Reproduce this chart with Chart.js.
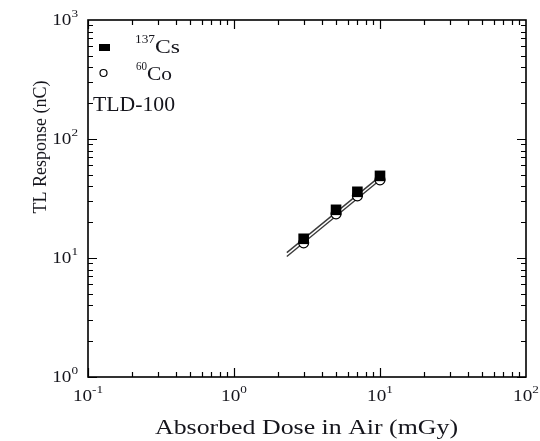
<!DOCTYPE html>
<html>
<head>
<meta charset="utf-8">
<script src="https://cdn.jsdelivr.net/npm/chart.js@4/dist/chart.umd.min.js"></script>
<style>
html,body{margin:0;padding:0;background:#fff;}
canvas{display:block;}
#pre{font-family:'Liberation Serif';position:absolute;left:-999px;top:0;}
</style>
</head>
<body>
<div id="pre">Aa10</div>
<canvas id="c" width="540" height="441"></canvas>
<script>
// ---- data ----
const doses = [3, 5, 7, 10];
const cs137 = [14.5, 25.4, 36, 49];
const co60 = [13.4, 23.5, 33.3, 45.4];
const fitDose = [2.3, 10];
const csFit = [11.1, 48.5];
const coFit = [10.3, 45.2];
const xTickValues = [0.1, 1, 10, 100];
const xTickExp = ['-1', '0', '1', '2'];
const yTickValues = [1, 10, 100, 1000];
const yTickExp = ['0', '1', '2', '3'];
const xTitle = 'Absorbed Dose in Air (mGy)';
const yTitle = 'TL Response (nC)';
const legendIsotopes = [['137', 'Cs'], ['60', 'Co']];
const noteText = 'TLD-100';

const FONT = "'Liberation Serif',serif";
const INK = '#15151c';
const SX = 1.2; // horizontal stretch of the reference's lettering

function pts(xs, ys) { return xs.map((x, i) => ({x: x, y: ys[i]})); }

function textW(ctx, text, size) {
  ctx.font = size + 'px ' + FONT;
  return ctx.measureText(text).width * SX;
}
function drawS(ctx, text, x, y, size) {
  ctx.save();
  ctx.font = size + 'px ' + FONT;
  ctx.translate(x, y);
  ctx.scale(SX, 1);
  ctx.textAlign = 'left';
  ctx.textBaseline = 'alphabetic';
  ctx.fillText(text, 0, 0);
  ctx.restore();
}
function fitText(ctx, text, x, y, size, targetW, align) {
  ctx.save();
  ctx.font = size + 'px ' + FONT;
  const w = ctx.measureText(text).width;
  const sx = targetW ? targetW / w : 1;
  ctx.translate(x, y);
  ctx.scale(sx, 1);
  ctx.textAlign = align || 'left';
  ctx.textBaseline = 'alphabetic';
  ctx.fillText(text, 0, 0);
  ctx.restore();
}

const framePlugin = {
  id: 'frame',
  afterDraw(chart) {
    const ctx = chart.ctx;
    const a = chart.chartArea;
    const xs = chart.scales.x, ys = chart.scales.y;
    ctx.save();
    ctx.fillStyle = INK;
    ctx.strokeStyle = '#000';
    ctx.lineWidth = 1.2;
    ctx.beginPath();
    for (let d = -1; d < 2; d++) {
      for (let k = 1; k <= 9; k++) {
        const v = k * Math.pow(10, d);
        const px = Math.round(xs.getPixelForValue(v)) + 0.5;
        const len = k === 1 ? 9 : 5;
        ctx.moveTo(px, a.bottom); ctx.lineTo(px, a.bottom - len);
        ctx.moveTo(px, a.top); ctx.lineTo(px, a.top + len);
      }
    }
    for (let d = 0; d < 3; d++) {
      for (let k = 1; k <= 9; k++) {
        const v = k * Math.pow(10, d);
        const py = Math.round(ys.getPixelForValue(v)) + 0.5;
        const len = k === 1 ? 9 : 5;
        ctx.moveTo(a.left, py); ctx.lineTo(a.left + len, py);
        ctx.moveTo(a.right, py); ctx.lineTo(a.right - len, py);
      }
    }
    ctx.stroke();
    ctx.lineWidth = 1.6;
    ctx.strokeRect(a.left, a.top, a.right - a.left, a.bottom - a.top);

    const BS = 16, ES = 11;
    xTickValues.forEach((v, i) => {
      const px = xs.getPixelForValue(v);
      const wb = textW(ctx, '10', BS);
      const we = textW(ctx, xTickExp[i], ES);
      const x0 = px - (wb + we) / 2;
      drawS(ctx, '10', x0, a.bottom + 24, BS);
      drawS(ctx, xTickExp[i], x0 + wb, a.bottom + 16, ES);
    });
    yTickValues.forEach((v, i) => {
      const py = ys.getPixelForValue(v);
      const wb = textW(ctx, '10', BS);
      const we = textW(ctx, yTickExp[i], ES);
      const xr = a.left - 10;
      drawS(ctx, '10', xr - we - wb, py + 5, BS);
      drawS(ctx, yTickExp[i], xr - we, py - 3, ES);
    });

    fitText(ctx, xTitle, (155 + 458) / 2, 434, 21, 303, 'center');
    ctx.save();
    ctx.translate(46, 147);
    ctx.rotate(-Math.PI / 2);
    fitText(ctx, yTitle, 0, 0, 18, 133, 'center');
    ctx.restore();

    ctx.fillStyle = '#000';
    ctx.fillRect(99, 44, 11, 7);
    ctx.beginPath();
    ctx.arc(103.5, 73, 3.5, 0, Math.PI * 2);
    ctx.fillStyle = '#fff';
    ctx.fill();
    ctx.lineWidth = 1.2;
    ctx.stroke();
    ctx.fillStyle = INK;
    fitText(ctx, legendIsotopes[0][0], 135, 43, 12, 20);
    fitText(ctx, legendIsotopes[0][1], 155, 53, 19, 25);
    fitText(ctx, legendIsotopes[1][0], 136, 70, 12, 11);
    fitText(ctx, legendIsotopes[1][1], 147, 80, 19, 25);
    fitText(ctx, noteText, 93, 111, 20, 82);
    ctx.restore();
  }
};

function build() {
  new Chart(document.getElementById('c'), {
    type: 'scatter',
    data: {
      datasets: [
        {label: '137Cs', data: pts(doses, cs137), pointStyle: 'rect', pointRadius: 7.5,
         backgroundColor: '#000', borderColor: '#000', borderWidth: 0},
        {label: '60Co', data: pts(doses, co60), pointStyle: 'circle', pointRadius: 5,
         backgroundColor: '#fff', borderColor: '#000', borderWidth: 1.2},
        {type: 'line', label: 'Cs fit', data: pts(fitDose, csFit), borderColor: '#3a3a3a',
         borderWidth: 1.4, pointRadius: 0, fill: false},
        {type: 'line', label: 'Co fit', data: pts(fitDose, coFit), borderColor: '#3a3a3a',
         borderWidth: 1.4, pointRadius: 0, fill: false}
      ]
    },
    options: {
      responsive: false,
      animation: false,
      layout: {padding: {left: 88, right: 14, top: 20, bottom: 64}},
      plugins: {legend: {display: false}, tooltip: {enabled: false}},
      scales: {
        x: {type: 'logarithmic', min: 0.1, max: 100, display: false},
        y: {type: 'logarithmic', min: 1, max: 1000, display: false}
      }
    },
    plugins: [framePlugin]
  });
}
if (document.fonts && document.fonts.load) {
  document.fonts.load("20px 'Liberation Serif'").then(build, build);
} else { build(); }
</script>
</body>
</html>
